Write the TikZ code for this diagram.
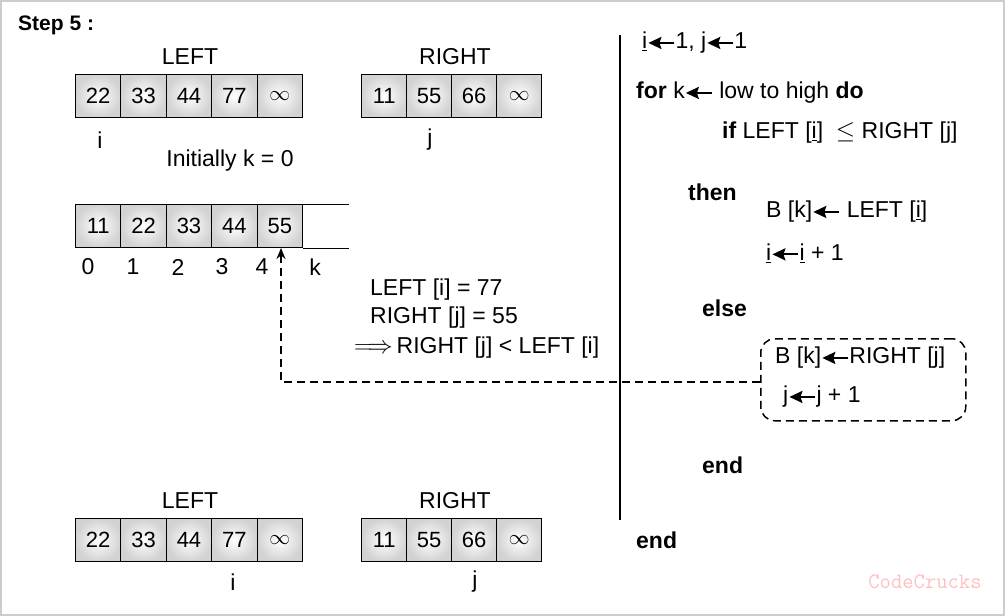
\documentclass[tikz,border=0pt]{standalone}
\usepackage{fontspec}
\setmainfont{Liberation Sans}
\usetikzlibrary{arrows.meta}
\newcommand{\la}{\tikz[baseline={(0,-6pt)},x=1pt,y=1pt]\draw[line width=2.2pt,-{Stealth[length=13pt,width=12pt,inset=2pt]}](26,0)--(0,0);}
\begin{document}
\begin{tikzpicture}[x=1pt,y=-1pt,
  cell/.style={draw,line width=1pt,inner color=white,outer color=gray!35,minimum width=45.4pt,minimum height=43pt,anchor=north west,inner sep=0pt},
  txt/.style={font=\fontsize{23}{26}\selectfont,inner sep=0pt},
  ltxt/.style={txt,anchor=west}]
\useasboundingbox (0,0) rectangle (1005,616);
\draw[gray!40,line width=1.5pt] (1,1) rectangle (1004,615);
\node[ltxt,font=\fontsize{21}{24}\selectfont\bfseries] (step) at (18,25) {Step 5 :};
% top LEFT
\node[txt] (tl) at (190,57) {LEFT};
\foreach \v [count=\n from 0] in {22,33,44,77,$\infty$}
  \node[cell,font=\fontsize{22}{26}\selectfont] (a\n) at (75+45.4*\n,74) {\v};
\node[txt] (tr) at (455,57) {RIGHT};
\foreach \v [count=\n from 0] in {11,55,66,$\infty$}
  \node[cell,font=\fontsize{22}{26}\selectfont] (b\n) at (361+45*\n,74) {\v};
\node[txt] (ti) at (100,140) {i};
\node[txt] (tj) at (430,140) {j};
\node[txt] (init) at (230,161) {Initially k = 0};
% merged
\foreach \v [count=\n from 0] in {11,22,33,44,55}
  \node[cell,font=\fontsize{22}{26}\selectfont] (c\n) at (75+45.4*\n,204) {\v};
\draw[line width=1pt] (c4.north east) -- ++(46,0) coordinate (ce1);
\draw[line width=1pt] (c4.south east) -- ++(46,0) coordinate (ce2);
\foreach \v/\x in {0/88,1/133,2/178,3/222,4/262} \node[txt] (k\v) at (\x,267) {\v};
\node[txt] (kk) at (315,267) {k};
% text
\node[ltxt] (t1) at (370,290) {LEFT [i] = 77};
\node[ltxt] (t2) at (370,318) {RIGHT [j] = 55};
\node[ltxt] (t3) at (354,348) {$\Longrightarrow$\,RIGHT [j] < LEFT [i]};
% divider
\coordinate (v1) at (620,35); \coordinate (v2) at (620,520);
\draw[line width=1.5pt] (v1) -- (v2);
% pseudo
\node[ltxt] (p1) at (642,43) {\underline{i}\la1, j\la1};
\node[ltxt] (p2) at (636,93) {\textbf{for} k\la\ low to high \textbf{do}};
\node[ltxt] (p3) at (722,133) {\textbf{if} LEFT [\underline{i}] \ $\le$ RIGHT [j]};
\node[ltxt,font=\fontsize{23}{26}\selectfont\bfseries] (p4) at (688,192) {then};
\node[ltxt] (p5) at (766,212) {B [k]\la\ LEFT [\underline{i}]};
\node[ltxt] (p6) at (766,253) {\underline{i}\la\underline{i} + 1};
\node[ltxt,font=\fontsize{23}{26}\selectfont\bfseries] (p7) at (702,308) {else};
\node[ltxt] (p8) at (775,358) {B [k]\la RIGHT [j]};
\node[ltxt] (p9) at (783,397) {j\la j + 1};
\node[ltxt,font=\fontsize{23}{26}\selectfont\bfseries] (p10) at (702,465) {end};
\node[ltxt,font=\fontsize{23}{26}\selectfont\bfseries] (p11) at (636,540) {end};
\node[draw,dashed,line width=1.5pt,rounded corners=14pt,minimum width=205pt,minimum height=82pt,anchor=north west,dash pattern=on 8pt off 5pt] (box) at (760,338) {};
\draw[dashed,line width=1.5pt,dash pattern=on 8pt off 5pt,-{Stealth[length=11pt,width=9pt]}] (box.west |- 0,382) -- (281,382) -- (c4.south -| 281,0);
% bottom
\node[txt] (bl) at (190,501) {LEFT};
\foreach \v [count=\n from 0] in {22,33,44,77,$\infty$}
  \node[cell,font=\fontsize{22}{26}\selectfont] (d\n) at (75+45.4*\n,518) {\v};
\node[txt] (br) at (455,501) {RIGHT};
\foreach \v [count=\n from 0] in {11,55,66,$\infty$}
  \node[cell,font=\fontsize{22}{26}\selectfont] (e\n) at (361+45*\n,518) {\v};
\node[txt] (bi) at (233,582) {i};
\node[txt] (bj) at (475,582) {j};
\node[txt,text=red!25,font=\fontsize{22}{24}\selectfont\ttfamily] (wm) at (925,582) {CodeCrucks};
\end{tikzpicture}
\end{document}
